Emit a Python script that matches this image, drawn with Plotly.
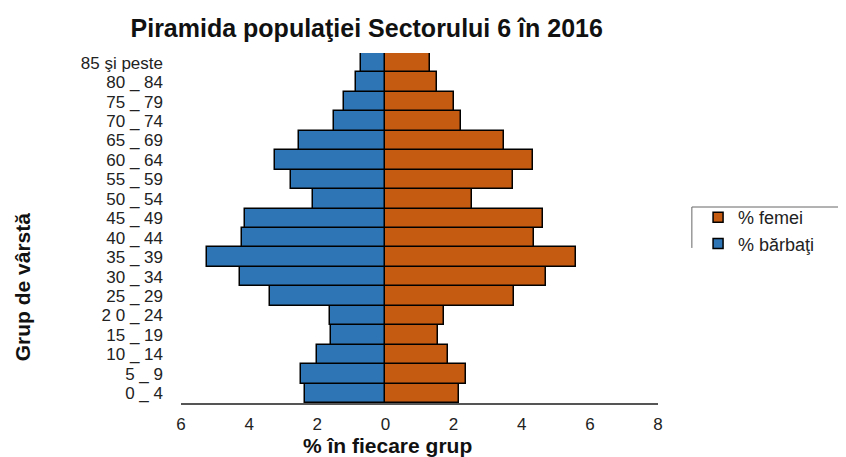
"""Population pyramid for Sector 6, 2016."""

import plotly.graph_objects as go

age_groups = [
    "0 _ 4", "5 _ 9", "10 _ 14", "15 _ 19", "2 0 _ 24", "25 _ 29",
    "30 _ 34", "35 _ 39", "40 _ 44", "45 _ 49", "50 _ 54", "55 _ 59",
    "60 _ 64", "65 _ 69", "70 _ 74", "75 _ 79", "80 _ 84", "85 şi peste",
]
men_pct = [2.35, 2.48, 2.02, 1.6, 1.64, 3.4, 4.26, 5.24, 4.2, 4.12,
           2.13, 2.76, 3.24, 2.53, 1.5, 1.23, 0.85, 0.71]
women_pct = [2.16, 2.37, 1.85, 1.54, 1.71, 3.78, 4.71, 5.6, 4.36, 4.61,
             2.55, 3.74, 4.33, 3.48, 2.22, 2.0, 1.52, 1.32]
tick_vals = [-6, -4, -2, 0, 2, 4, 6, 8]

BLUE = "#2e75b6"
ORANGE = "#c55a11"
FONT = "Liberation Sans, Arial, sans-serif"

fig = go.Figure()
fig.add_trace(go.Bar(
    y=age_groups, x=women_pct, orientation="h", name="% femei",
    marker=dict(color=ORANGE, line=dict(color="black", width=1.5)),
    showlegend=False,
))
fig.add_trace(go.Bar(
    y=age_groups, x=[-v for v in men_pct], orientation="h", name="% bărbaţi",
    marker=dict(color=BLUE, line=dict(color="black", width=1.5)),
    showlegend=False,
))
# legend entries with small square swatches, like the original
for name, color in [("% femei", ORANGE), ("% bărbaţi", BLUE)]:
    fig.add_trace(go.Scatter(
        x=[None], y=[None], mode="markers", name=name,
        marker=dict(symbol="square", size=10, color=color,
                    line=dict(color="black", width=1.5)),
    ))

# the page body adds an 8px offset, margins compensate for it
fig.update_layout(
    width=846, height=457,
    margin=dict(l=173, r=196, t=45, b=62),
    paper_bgcolor="white", plot_bgcolor="white",
    barmode="overlay", bargap=0,
    font=dict(family=FONT, size=17, color="#222"),
    title=dict(text="<b>Piramida populaţiei Sectorului 6 în 2016</b>",
               x=0.424, xanchor="center", y=0.956, yanchor="middle",
               font=dict(size=25, color="#111")),
    legend=dict(x=1.084, xanchor="left", y=0.583, yanchor="top",
                font=dict(size=18, color="#222"), traceorder="normal",
                itemwidth=30, tracegroupgap=0, bgcolor="rgba(0,0,0,0)"),
    showlegend=True,
)
fig.update_xaxes(
    range=[-6, 8], tickvals=tick_vals, ticktext=[str(abs(v)) for v in tick_vals],
    showgrid=False, zeroline=False, showline=True, linecolor="#555", linewidth=1.5,
    ticks="", ticklabelstandoff=5, tickfont=dict(size=17), automargin=False,
)
fig.update_yaxes(
    tickmode="array", tickvals=age_groups,
    showgrid=False, zeroline=False, showline=False, ticks="",
    ticklabelstandoff=17, tickfont=dict(size=17), automargin=False,
)
fig.add_annotation(
    text="<b>Grup de vârstă</b>", textangle=-90, xref="paper", yref="paper",
    x=-0.333, y=0.331, xanchor="center", yanchor="middle", showarrow=False,
    font=dict(size=21, color="#111"),
)
fig.add_annotation(
    text="<b>% în fiecare grup</b>", xref="paper", yref="paper",
    x=0.432, y=-0.12, xanchor="center", yanchor="middle", showarrow=False,
    font=dict(size=21, color="#111"),
)
# legend frame: only top and left edges are visible
fig.add_shape(type="line", xref="paper", yref="paper",
              x0=1.071, x1=1.4, y0=0.56, y1=0.56, line=dict(color="#666", width=1))
fig.add_shape(type="line", xref="paper", yref="paper",
              x0=1.071, x1=1.071, y0=0.56, y1=0.443, line=dict(color="#666", width=1))

fig.write_html("out.html")
